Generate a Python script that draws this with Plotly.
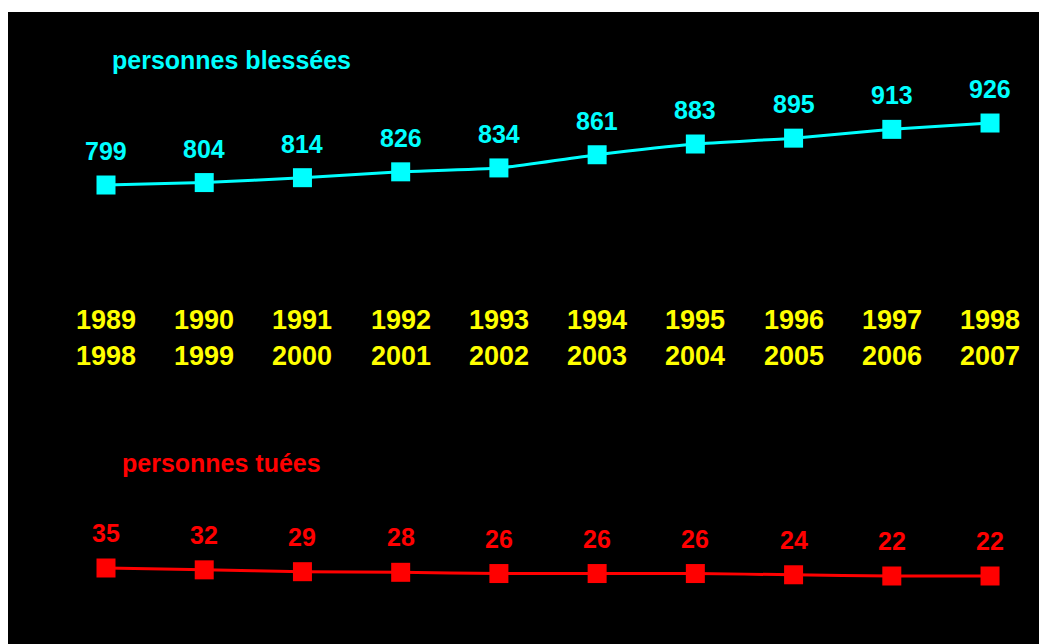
import plotly.graph_objects as go

periods_start = ["1989", "1990", "1991", "1992", "1993", "1994", "1995", "1996", "1997", "1998"]
periods_end = ["1998", "1999", "2000", "2001", "2002", "2003", "2004", "2005", "2006", "2007"]
blesses = [799, 804, 814, 826, 834, 861, 883, 895, 913, 926]
tues = [35, 32, 29, 28, 26, 26, 26, 24, 22, 22]

CYAN = "#00FFFF"
RED = "#FF0000"
YELLOW = "#FFFF00"
FONT = "Arial, Liberation Sans, sans-serif"

x = list(range(len(periods_start)))

fig = go.Figure()

fig.add_trace(go.Scatter(
    x=x, y=blesses, mode="lines+markers",
    line=dict(color=CYAN, width=3, shape="spline", smoothing=0.4),
    marker=dict(symbol="square", size=19, color=CYAN),
    yaxis="y", hoverinfo="skip"
))
fig.add_trace(go.Scatter(
    x=x, y=tues, mode="lines+markers",
    line=dict(color=RED, width=3, shape="spline", smoothing=0.4),
    marker=dict(symbol="square", size=19, color=RED),
    yaxis="y2", hoverinfo="skip"
))

annotations = []
for xi, v in zip(x, blesses):
    annotations.append(dict(x=xi, y=v, xref="x", yref="y", text=f"<b>{v}</b>",
                            showarrow=False, yshift=34,
                            font=dict(family=FONT, size=25, color=CYAN)))
for xi, v in zip(x, tues):
    annotations.append(dict(x=xi, y=v, xref="x", yref="y2", text=f"<b>{v}</b>",
                            showarrow=False, yshift=35,
                            font=dict(family=FONT, size=25, color=RED)))
for xi, a, b in zip(x, periods_start, periods_end):
    annotations.append(dict(x=xi, y=0.5094, xref="x", yref="paper", text=f"<b>{a}</b>",
                            showarrow=False, yanchor="middle",
                            font=dict(family=FONT, size=27, color=YELLOW)))
    annotations.append(dict(x=xi, y=0.4528, xref="x", yref="paper", text=f"<b>{b}</b>",
                            showarrow=False, yanchor="middle",
                            font=dict(family=FONT, size=27, color=YELLOW)))

# series titles
annotations.append(dict(x=0.0982, y=0.9182, xref="paper", yref="paper",
                        text="<b>personnes blessées</b>", showarrow=False,
                        xanchor="left", yanchor="middle",
                        font=dict(family=FONT, size=25, color=CYAN)))
annotations.append(dict(x=0.1078, y=0.2846, xref="paper", yref="paper",
                        text="<b>personnes tuées</b>", showarrow=False,
                        xanchor="left", yanchor="middle",
                        font=dict(family=FONT, size=25, color=RED)))

fig.update_layout(
    width=1039, height=636,
    margin=dict(l=0, r=0, t=0, b=0),
    paper_bgcolor="white",
    plot_bgcolor="rgba(0,0,0,0)",
    showlegend=False,
    xaxis=dict(range=[-0.9977, 9.580], visible=False, fixedrange=True),
    yaxis=dict(range=[-141.2, 1161.6], visible=False, fixedrange=True),
    yaxis2=dict(range=[-88.5, 945], visible=False, overlaying="y", fixedrange=True),
    annotations=annotations,
    shapes=[
        dict(type="rect", xref="paper", yref="paper", x0=0, x1=1, y0=0, y1=1 - 4/636,
             fillcolor="black", line=dict(width=0), layer="below"),
    ],
)

fig.write_html("out.html")
